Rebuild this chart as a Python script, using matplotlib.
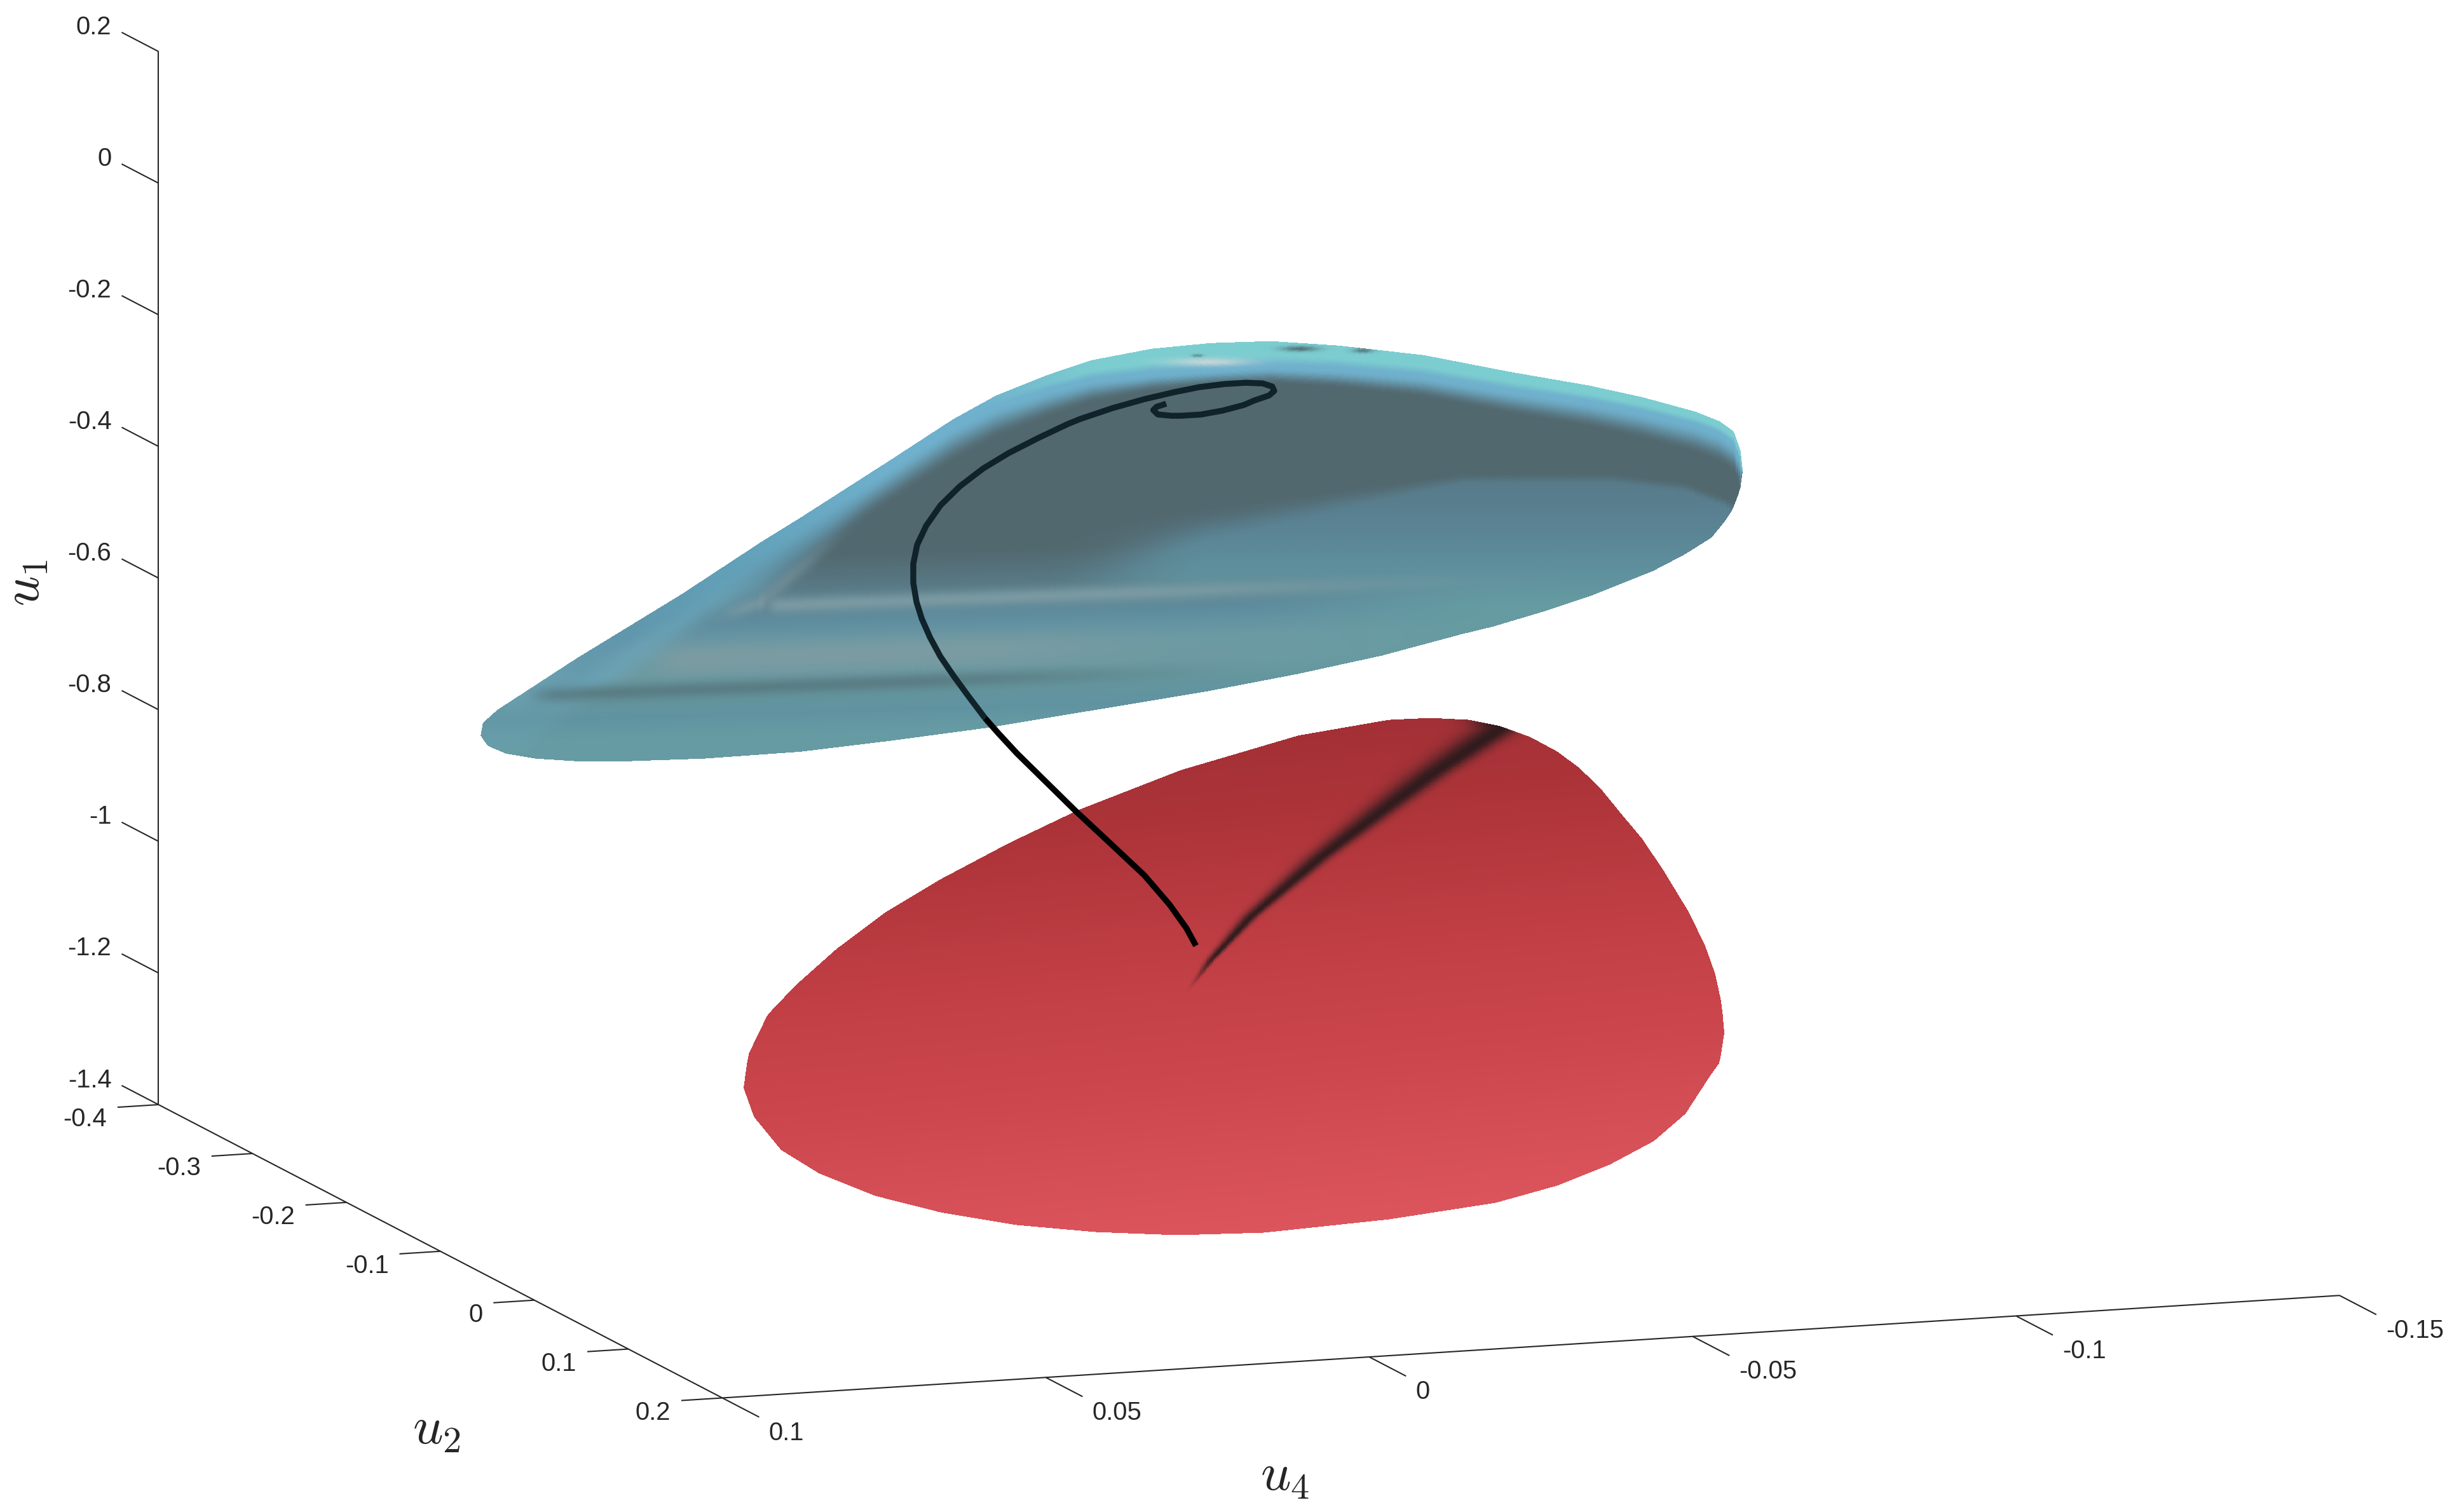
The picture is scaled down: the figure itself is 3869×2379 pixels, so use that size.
import numpy as np
import matplotlib
matplotlib.use("Agg")
import matplotlib.pyplot as plt
from matplotlib.colors import to_rgb
from mpl_toolkits.mplot3d import proj3d

W, H = 3869, 2379

# axis ticks
u4_ticks = [0.1, 0.05, 0, -0.05, -0.1, -0.15]
u4_labels = ["0.1", "0.05", "0", "-0.05", "-0.1", "-0.15"]
u2_ticks = [-0.4, -0.3, -0.2, -0.1, 0, 0.1, 0.2]
u2_labels = ["-0.4", "-0.3", "-0.2", "-0.1", "0", "0.1", "0.2"]
u1_ticks = [0.2, 0, -0.2, -0.4, -0.6, -0.8, -1, -1.2, -1.4]
u1_labels = ["0.2", "0", "-0.2", "-0.4", "-0.6", "-0.8", "-1", "-1.2", "-1.4"]

# one view only gives two coordinates per point, so each object sits at a fixed u2
blue_u2 = -0.2
blue_top_u4 = [0.0792, 0.0789, 0.0766, 0.0645, 0.0481, 0.0357, 0.0298, 0.0160, 0.0062, -0.0004, -0.0085,
               -0.0152, -0.0245, -0.0336, -0.0429, -0.0534, -0.0665, -0.0797, -0.0921, -0.1002, -0.1085,
               -0.1122, -0.1144, -0.1155, -0.1158]
blue_top_u1 = [-0.7035, -0.6854, -0.6666, -0.5968, -0.5085, -0.4362, -0.4041, -0.3258, -0.2692, -0.2375, -0.2107,
               -0.1927, -0.1811, -0.1781, -0.1809, -0.1943, -0.2169, -0.2503, -0.2791, -0.3016, -0.3289,
               -0.3457, -0.3625, -0.3931, -0.4224]
blue_bot_u4 = [0.0792, 0.0781, 0.0753, 0.0707, 0.0645, 0.0563, 0.0448, 0.0298, 0.0160, 0.0006, -0.0331,
               -0.0469, -0.0600, -0.0724, -0.0773, -0.0855, -0.0928, -0.1019, -0.1068, -0.1110, -0.1130,
               -0.1142, -0.1154, -0.1158]
blue_bot_u1 = [-0.7035, -0.7197, -0.7331, -0.7436, -0.7513, -0.7564, -0.7597, -0.7585, -0.7506, -0.7399, -0.7058,
               -0.6884, -0.6685, -0.6435, -0.6349, -0.6159, -0.5963, -0.5662, -0.5441, -0.5208, -0.4978,
               -0.4812, -0.4511, -0.4224]

red_u2 = 0.0
red_top_u4 = [0.0676, 0.0669, 0.0639, 0.0596, 0.0532, 0.0457, 0.0372, 0.0266, 0.0159, 0.0, -0.0182,
              -0.0321, -0.0385, -0.0444, -0.0493, -0.0539, -0.0581, -0.0614, -0.0647, -0.0679, -0.0712,
              -0.0745, -0.0785, -0.0810, -0.0825, -0.0835, -0.0839]
red_top_u1 = [-1.0975, -1.0483, -0.9893, -0.9476, -0.8956, -0.8452, -0.8003, -0.7518, -0.7083, -0.6574, -0.6161,
              -0.6011, -0.6022, -0.6087, -0.6214, -0.6407, -0.6655, -0.6917, -0.7247, -0.7653, -0.8060,
              -0.8563, -0.9235, -0.9762, -1.0187, -1.0646, -1.1082]
red_bot_u4 = [0.0676, 0.0660, 0.0618, 0.0559, 0.0473, 0.0372, 0.0255, 0.0132, 0.0005, -0.0128,
              -0.0321, -0.0486, -0.0581, -0.0662, -0.0730, -0.0779, -0.0816, -0.0832, -0.0839]
red_bot_u1 = [-1.0975, -1.1424, -1.1953, -1.2347, -1.2738, -1.3052, -1.3317, -1.3501, -1.3628, -1.3672,
              -1.3590, -1.3441, -1.3239, -1.2971, -1.2657, -1.2272, -1.1735, -1.1523, -1.1082]

# trajectory, from the inner end of the spiral down to the red surface
curve_u2 = -0.1
curve_u4 = [-0.0122, -0.0107, -0.0102, -0.0109, -0.0130, -0.0145, -0.0176, -0.0209, -0.0242, -0.0258, -0.0281,
            -0.0289, -0.0286, -0.0271, -0.0245, -0.0212, -0.0173, -0.0134, -0.0088, -0.0039, 0.0011, 0.0030,
            0.0076, 0.0122, 0.0161, 0.0197, 0.0227, 0.0249, 0.0263, 0.0269, 0.0269, 0.0264, 0.0256, 0.0243,
            0.0227, 0.0207, 0.0184, 0.0158, 0.0138, 0.0109, 0.0076, 0.0018, -0.0022, -0.0088, -0.0127,
            -0.0153, -0.0168]
curve_u1 = [-0.1821, -0.1860, -0.1906, -0.1977, -0.2010, -0.2019, -0.2019, -0.1981, -0.1916, -0.1858, -0.1795,
            -0.1732, -0.1663, -0.1606, -0.1580, -0.1579, -0.1602, -0.1655, -0.1732, -0.1837, -0.1971, -0.2035,
            -0.2220, -0.2422, -0.2630, -0.2878, -0.3149, -0.3444, -0.3725, -0.4011, -0.4300, -0.4593, -0.4850,
            -0.5147, -0.5447, -0.5748, -0.6072, -0.6426, -0.6661, -0.6988, -0.7327, -0.7923, -0.8314, -0.8963,
            -0.9433, -0.9806, -1.0085]
curve_exit_u1 = -0.6426  # where it leaves the blue surface

plt.rcParams["font.family"] = ["Liberation Sans", "DejaVu Sans"]
plt.rcParams["mathtext.fontset"] = "cm"
AXIS_COLOR = "#262626"


def smooth(a, b, v):
    s = np.clip((v - a) / (b - a), 0, 1)
    return s * s * (3 - 2 * s)


def ramp(q, stops, colors):
    rgb = np.array([to_rgb(c) for c in colors])
    return np.stack([np.interp(q, stops, rgb[:, i]) for i in range(3)], axis=-1)


def blend(img, color, alpha):
    return img * (1 - alpha[..., None]) + np.array(to_rgb(color)) * alpha[..., None]


def mix(img, other, alpha):
    return img * (1 - alpha[..., None]) + other * alpha[..., None]


def band(px, py, x0, y0, x1, y1, sigma, fade_in=80, fade_out=300):
    # soft stripe along a line, sigma measured vertically
    d = py - (y0 + (y1 - y0) * (px - x0) / (x1 - x0))
    return np.exp(-0.5 * (d / sigma) ** 2) * smooth(x0, x0 + fade_in, px) * (1 - smooth(x1 - fade_out, x1, px))


def spot(px, py, x0, y0, sx, sy):
    return np.exp(-0.5 * (((px - x0) / sx) ** 2 + ((py - y0) / sy) ** 2))


fig = plt.figure(figsize=((W + 0.01) / 300, (H + 0.01) / 300), dpi=300)
ax = fig.add_axes([0, 0, 1, 1], projection="3d", proj_type="ortho", computed_zorder=False)
ax.view_init(elev=10.46, azim=70.76)
ax.set_box_aspect((2695, 2692, 1685))
ax.set_xlim(-0.15, 0.1)
ax.set_ylim(-0.4, 0.2)
ax.set_zlim(-1.4, 0.2)
ax.set_axis_off()


def to_pixels(x, y, z):
    x, y, z = [np.ravel(np.asarray(v, float)) for v in (x, y, z)]
    xs, ys, _ = proj3d.proj_transform(x, y, z, ax.get_proj())
    return ax.transData.transform(np.column_stack([xs, ys]))


def place(left, bottom, side):
    ax.set_position([left / W, bottom / H, side / W, side / H])
    ax.apply_aspect()


# scale and shift the axes so the box corners land where they are in the picture
corner_b = np.array([3681.0, H - 2038.3])
corner_c = np.array([1136.5, H - 2199.5])
side = 2000.0
place(0, 0, side)
a, b = to_pixels([0.1, -0.15], [0.2, 0.2], [-1.4, -1.4])
side *= np.linalg.norm(corner_b - corner_c) / np.linalg.norm(b - a)
place(0, 0, side)
p = to_pixels([0.1], [0.2], [-1.4])[0]
left, bottom = corner_c - p
place(left, bottom, side)


def lobe_mesh(top_u4, top_u1, bot_u4, bot_u1, u2, ncol, nrow):
    grid = np.linspace(max(top_u4), min(top_u4), ncol)
    top = np.interp(grid, top_u4[::-1], top_u1[::-1])
    bot = np.interp(grid, bot_u4[::-1], bot_u1[::-1])
    f = np.linspace(0, 1, nrow)[:, None]
    U1 = top + (bot - top) * f
    U4 = np.tile(grid, (nrow, 1))
    U2 = np.full_like(U1, u2)
    pts = to_pixels(U4, U2, U1)
    px = pts[:, 0].reshape(U1.shape)
    py = H - pts[:, 1].reshape(U1.shape)
    return U4, U2, U1, px, py


def blue_colors(px, py):
    q = py + 0.03 * (px - 1700)
    img = ramp(q, [860, 915, 968, 1005, 1040, 1070, 1107, 1140],
               ["#52686f", "#587a86", "#5f8ea0", "#6c9aa3", "#6d9aa2", "#65969e", "#6093a0", "#669ba3"])

    # blue area under the dark part on the right, thin and faint where it starts
    edge = np.interp(px, [1627, 1820, 2100, 2300, 2533, 2650, 2713, 2745], [840, 805, 768, 743, 743, 757, 783, 810])
    right = ramp(py, [750, 830, 900, 950], ["#577a88", "#5a8394", "#5f909d", "#659ba1"])
    soft = np.interp(px, [1627, 1900, 2300], [120, 60, 18])
    wedge = smooth(0, 1, (py - edge) / soft) * smooth(1627, 1900, px)
    wedge = wedge * (1 - smooth(900, 960, q) * (1 - smooth(1900, 2400, px)))
    img = mix(img, right, wedge)

    # lighter strip between the left edge and the diagonal crease, faint towards the tip
    crease = np.interp(px, [800, 907, 1107, 1190, 1340, 1500], [1200, 1120, 977, 950, 825, 700])
    strip = ramp(px, [900, 1120, 1250, 1400], ["#6ba3b4", "#6aa0b2", "#5c8799", "#557582"])
    strip_alpha = (1 - smooth(-35, 18, py - crease)) * (1 - smooth(1300, 1420, px))
    strip_alpha = strip_alpha * (0.3 + 0.7 * (1 - smooth(1070, 1130, py)))
    img = mix(img, strip, strip_alpha)
    img = blend(img, "#86a9b6", 0.5 * band(px, py, 907, 1047, 1060, 985, 13, fade_in=50, fade_out=80))

    # stripes
    img = blend(img, "#7f9da5", 0.85 * band(px, py, 1195, 953, 2500, 905, 9, fade_in=30, fade_out=800))
    img = blend(img, "#809ba2", 0.75 * band(px, py, 1000, 1041, 1900, 1010, 16, fade_out=400))
    img = blend(img, "#587980", 0.85 * band(px, py, 815, 1095, 2000, 1050, 9, fade_in=60, fade_out=600))
    img = blend(img, "#85a0a8", 0.55 * band(px, py, 1117, 973, 1205, 945, 8, fade_in=60, fade_out=10))
    img = blend(img, "#7d979f", 0.5 * band(px, py, 1190, 950, 1340, 825, 11, fade_in=5, fade_out=110))

    # rim along the upper edge: teal then blue on the top, blue only on the left slope
    d = py - py[0, :]
    teal_end = np.interp(px, [1500, 1800, 1900, 2700], [0, 28, 32, 10])
    rim = ramp(px, [850, 1150, 1400], ["#5f8fa3", "#62a0b8", "#6fb0cc"])
    rim = blend(rim, "#7ccdd0", (1 - smooth(teal_end * 0.6, teal_end + 8, d)) * smooth(1500, 1750, px))
    rim_alpha = (1 - smooth(teal_end + 10, 65, d)) * smooth(800, 1000, px)
    img = mix(img, rim, rim_alpha)

    # highlight and small dark marks near the top
    img = blend(img, "#ccd6d9", 0.9 * spot(px, py, 1900, 568, 45, 4.5))
    img = blend(img, "#4f6a72", 0.9 * spot(px, py, 2043, 547, 20, 3))
    img = blend(img, "#4f6a72", 0.8 * spot(px, py, 2142, 550, 11, 2.5))
    img = blend(img, "#4f6a72", 0.7 * spot(px, py, 1882, 558, 6, 1.5))
    return img


def red_colors(px, py):
    q = py + 0.1 * (px - 1870)
    img = ramp(q, [1130, 1300, 1500, 1700, 1950],
               ["#a02f35", "#ad3439", "#bf3e44", "#cc474d", "#dc555d"])
    # dark streak, opens up from the tip at the centre towards the top edge, softer on its left
    cx = np.interp(py, [1146, 1173, 1215, 1265, 1348, 1440, 1510, 1565],
                   [2358, 2317, 2254, 2186, 2076, 1968, 1903, 1862])
    grow = np.clip(1565 - py, 0, None)
    sigma = 1.2 + 0.055 * grow
    dx = px - cx
    sigma = np.where(dx < 0, sigma * 1.25, sigma * 0.85)
    streak = np.exp(-0.5 * (dx / sigma) ** 2) * smooth(0, 70, grow)
    return blend(img, "#2a1a1c", 0.95 * streak)


U4, U2, U1, px, py = lobe_mesh(blue_top_u4, blue_top_u1, blue_bot_u4, blue_bot_u1, blue_u2, 560, 240)
ax.plot_surface(U4, U2, U1, rstride=1, cstride=1, facecolors=blue_colors(px, py), shade=False,
                linewidth=0, antialiased=False, zorder=2)

U4, U2, U1, px, py = lobe_mesh(red_top_u4, red_top_u1, red_bot_u4, red_bot_u1, red_u2, 560, 300)
ax.plot_surface(U4, U2, U1, rstride=1, cstride=1, facecolors=red_colors(px, py), shade=False,
                linewidth=0, antialiased=False, zorder=1)

# trajectory: tinted while it is behind the blue surface, black below it
curve_u4 = np.array(curve_u4)
curve_u1 = np.array(curve_u1)
inside = curve_u1 >= curve_exit_u1
ax.plot(curve_u4[inside], np.full(inside.sum(), curve_u2), curve_u1[inside], color="#10232a", lw=2.25,
        solid_joinstyle="round", solid_capstyle="butt", zorder=3)
i0 = np.argmax(~inside) - 1
ax.plot(curve_u4[i0:], np.full(len(curve_u4) - i0, curve_u2), curve_u1[i0:], color="black", lw=2.25,
        solid_joinstyle="round", solid_capstyle="butt", zorder=3)

# axis lines
line_kw = dict(color=AXIS_COLOR, lw=0.5, solid_capstyle="butt", zorder=4)
ax.plot([0.1, 0.1], [-0.4, -0.4], [-1.4, 0.2], **line_kw)
ax.plot([0.1, 0.1], [-0.4, 0.2], [-1.4, -1.4], **line_kw)
ax.plot([0.1, -0.15], [0.2, 0.2], [-1.4, -1.4], **line_kw)


def tick_label(x, y, z, s, ha):
    p = to_pixels([x], [y], [z])[0]
    fig.text(p[0] / W, p[1] / H, s, ha=ha, va="center", color=AXIS_COLOR, fontsize=9.6)


for v, s in zip(u1_ticks, u1_labels):
    ax.plot([0.1, 0.1], [-0.4, -0.4392], [v, v], **line_kw)
    tick_label(0.1, -0.45, v, s, "right")
for v, s in zip(u2_ticks, u2_labels):
    ax.plot([0.1, 0.10634], [v, v], [-1.4, -1.4], **line_kw)
    tick_label(0.108, v, -1.4175, s, "right")
for v, s in zip(u4_ticks, u4_labels):
    ax.plot([v, v], [0.2, 0.2392], [-1.4, -1.4], **line_kw)
    tick_label(v, 0.2493, -1.4168, s, "left")

label_kw = dict(color=AXIS_COLOR, fontsize=20, ha="center", va="center")
fig.text(40 / W, 1 - 917 / H, r"$u_1$", rotation=90, **label_kw)
fig.text(687 / W, 1 - 2250 / H, r"$u_2$", **label_kw)
fig.text(2022 / W, 1 - 2323 / H, r"$u_4$", **label_kw)

fig.savefig("out.png", dpi=300)
